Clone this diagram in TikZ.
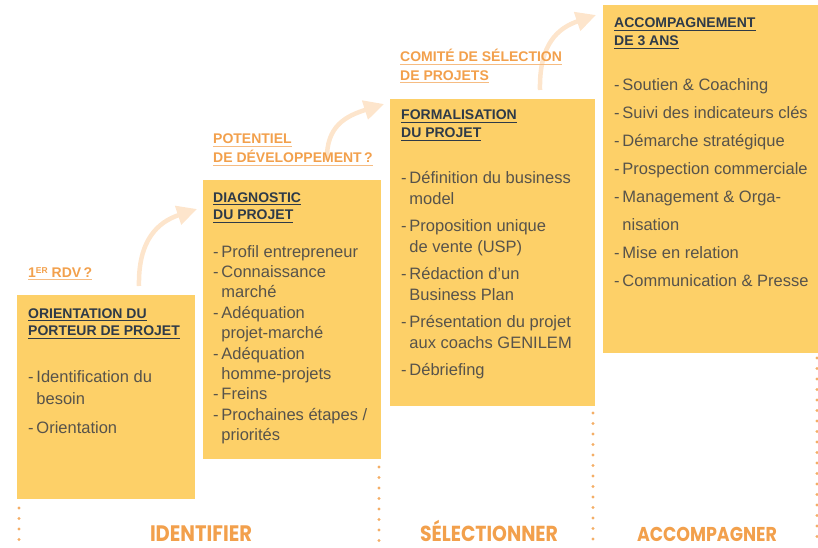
\documentclass[tikz,border=0pt]{standalone}
\usepackage{fontspec}
\usepackage{graphicx}
\setmainfont{Liberation Sans}
\newfontfamily\labfont{Poppins}
\usetikzlibrary{arrows.meta}
\definecolor{boxy}{HTML}{FDD068}
\definecolor{orng}{HTML}{F2A04C}
\definecolor{orngl}{HTML}{F6BC82}
\definecolor{navy}{HTML}{2E3A48}
\definecolor{bodyc}{HTML}{57534B}
\definecolor{peach}{HTML}{FDE5CC}
\definecolor{dotc}{HTML}{F4AE66}
\newcommand\ulin[1]{\setbox0\hbox{#1}\leavevmode\rlap{\rule[-3pt]{\wd0}{0.9pt}}\box0}
\newcommand\ulo[1]{\setbox0\hbox{#1}\leavevmode\rlap{\textcolor{orngl}{\rule[-3pt]{\wd0}{1pt}}}\box0}
\newcommand\ind{\hphantom{-\,}}
\newcommand\dsh{-\,}
\begin{document}
\begin{tikzpicture}[x=1pt,y=-1pt,
  boxst/.style={fill=boxy, draw=none, inner sep=0pt, outer sep=0pt, anchor=north west},
  titlest/.style={anchor=base west, inner sep=0pt, align=left, text=navy, font=\fontsize{14}{17.5}\selectfont\bfseries},
  labst/.style={anchor=base west, inner sep=0pt, align=left, text=orng, font=\fontsize{14}{18.5}\selectfont\bfseries},
  bodyst/.style={anchor=base west, inner sep=0pt, align=left, text=bodyc, font=\fontsize{16.5}{22}\selectfont},
  stagest/.style={anchor=base, inner sep=0pt, text=orng},
  bigarrow/.style={draw=peach, line width=4.5pt, -{Triangle[length=20pt,width=19pt]}},
  dotline/.style={draw=dotc, line width=3.2pt, line cap=round, dash pattern=on 0pt off 10.5pt}
]
\useasboundingbox (0,0) rectangle (818,548);
% dotted separators
\coordinate (d1a) at (19,508); \coordinate (d1b) at (19,546);
\coordinate (d2a) at (379,467); \coordinate (d2b) at (379,546);
\coordinate (d3a) at (593,413); \coordinate (d3b) at (593,546);
\coordinate (d4a) at (817,358); \coordinate (d4b) at (817,546);
\draw[dotline] (d1a) -- (d1b);
\draw[dotline] (d2a) -- (d2b);
\draw[dotline] (d3a) -- (d3b);
\draw[dotline] (d4a) -- (d4b);
% boxes
\node[boxst, minimum width=178pt, minimum height=204pt] (box1) at (17,295) {};
\node[boxst, minimum width=178pt, minimum height=279pt] (box2) at (203,180) {};
\node[boxst, minimum width=205pt, minimum height=307pt] (box3) at (390,99) {};
\node[boxst, minimum width=215pt, minimum height=348pt] (box4) at (603,5) {};
% arrows
\coordinate (a1s) at (139,286); \coordinate (a1e) at (197,209);
\coordinate (a2s) at (327,160); \coordinate (a2e) at (384,104);
\coordinate (a3s) at (540,90); \coordinate (a3e) at (596,15);
\draw[bigarrow] (a1s) .. controls (138,240) and (158,222) .. (a1e);
\draw[bigarrow] (a2s) .. controls (326,126) and (346,116) .. (a2e);
\draw[bigarrow] (a3s) .. controls (539,44) and (558,28) .. (a3e);
% orange labels (anchor = baseline of last line)
\node[labst] (l1) at (28,277) {\ulo{1\raisebox{3.6pt}{\fontsize{8.5}{8.5}\selectfont ER} RDV\,?}};
\node[labst] (l2) at (213,162.5) {\ulo{POTENTIEL}\\\ulo{DE DÉVELOPPEMENT\,?}};
\node[labst] (l3) at (400,80.5) {\ulo{COMITÉ DE SÉLECTION}\\\ulo{DE PROJETS}};
% titles
\node[titlest] (t1) at (28,335.5) {\ulin{ORIENTATION DU}\\\ulin{PORTEUR DE PROJET}};
\node[titlest] (t2) at (213,219.5) {\ulin{DIAGNOSTIC}\\\ulin{DU PROJET}};
\node[titlest] (t3) at (401,137.5) {\ulin{FORMALISATION}\\\ulin{DU PROJET}};
\node[titlest] (t4) at (614,45.5) {\ulin{ACCOMPAGNEMENT}\\\ulin{DE 3 ANS}};
% bodies
\node[bodyst] (b1) at (28,433) {\dsh Identification du\\\ind besoin\\[7pt]\dsh Orientation};
\node[bodyst, font=\fontsize{16.5}{20.4}\selectfont] (b2) at (213,440.6) {\dsh Profil entrepreneur\\\dsh Connaissance\\\ind march\'e\\\dsh Ad\'equation\\\ind projet-march\'e\\\dsh Ad\'equation\\\ind homme-projets\\\dsh Freins\\\dsh Prochaines \'etapes /\\\ind priorit\'es};
\node[bodyst, font=\fontsize{16.5}{21}\selectfont] (b3) at (401,375) {\dsh D\'efinition du business\\\ind model\\[6pt]\dsh Proposition unique\\\ind de vente (USP)\\[6pt]\dsh R\'edaction d’un\\\ind Business Plan\\[6pt]\dsh Pr\'esentation du projet\\\ind aux coachs GENILEM\\[6pt]\dsh D\'ebriefing};
\node[bodyst, font=\fontsize{16.5}{28}\selectfont] (b4) at (614,286) {\dsh Soutien \& Coaching\\\dsh Suivi des indicateurs cl\'es\\\dsh D\'emarche strat\'egique\\\dsh Prospection commerciale\\\dsh Management \& Orga-\\\ind nisation\\\dsh Mise en relation\\\dsh Communication \& Presse};
% stage labels
\node[stagest] (s1) at (201,541) {\scalebox{1}[1.15]{\resizebox{102pt}{!}{\labfont\bfseries IDENTIFIER}}};
\node[stagest] (s2) at (489,541) {\scalebox{1}[1.15]{\resizebox{138pt}{!}{\labfont\bfseries SÉLECTIONNER}}};
\node[stagest] (s3) at (707,541) {\scalebox{1}[1.15]{\resizebox{140pt}{!}{\labfont\bfseries ACCOMPAGNER}}};
\end{tikzpicture}
\end{document}
